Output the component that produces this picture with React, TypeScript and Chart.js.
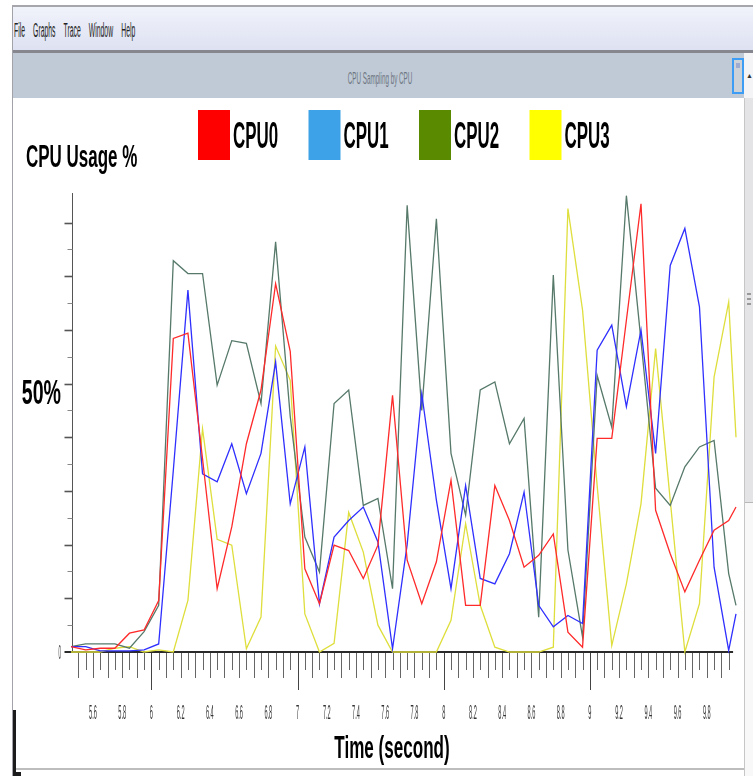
import React, { useEffect, useRef } from "react";
import { Chart, registerables } from "chart.js";

Chart.register(...registerables);

// ---------- data ----------
const times = [
  5.45, 5.55, 5.65, 5.75, 5.85, 5.95, 6.05, 6.15, 6.25, 6.35, 6.45, 6.55,
  6.65, 6.75, 6.85, 6.95, 7.05, 7.15, 7.25, 7.35, 7.45, 7.55, 7.65, 7.75,
  7.85, 7.95, 8.05, 8.15, 8.25, 8.35, 8.45, 8.55, 8.65, 8.75, 8.85, 8.95,
  9.05, 9.15, 9.25, 9.35, 9.45, 9.55, 9.65, 9.75, 9.85, 9.95, 10.0,
];

const cpu0 = [
  1.0, 0.4, 0.7, 0.7, 3.5, 4.1, 9.6, 58.4, 59.4, 36, 11.8, 23.3,
  38.8, 48.8, 68.6, 56, 15.5, 9, 19.9, 18.9, 13.7, 19.9, 47.8, 17.1,
  9, 16.8, 32, 8.7, 8.7, 31, 24.5, 15.8, 18, 22, 3.7, 0.9,
  39.8, 39.8, 61.8, 83.5, 26.4, 18.3, 11.2, 17.1, 22.7, 24.5, 27,
];

const cpu1 = [
  1.0, 1.0, 0.2, 0.2, 0.2, 0.4, 1.5, 33.8, 67.4, 33.2, 31.7, 38.8,
  29.5, 37, 54, 27.6, 38.2, 9, 21.4, 24.5, 27, 20.5, 0.6, 20,
  48.1, 28.3, 11.8, 31, 13.7, 12.7, 18.3, 29.8, 8.7, 4.7, 6.8, 5.3,
  56.2, 60.9, 45.7, 60, 37, 72, 78.9, 64.3, 15.8, 0.3, 7.1,
];

const cpu2 = [
  1.0, 1.5, 1.5, 1.5, 0.7, 3.8, 8.7, 72.9, 70.5, 70.5, 49.7, 58,
  57.5, 46.3, 76.4, 43.9, 21.4, 14.9, 46.3, 48.8, 27.3, 28.6, 11.8, 83.2,
  45, 80.7, 37, 25.5, 48.8, 50.3, 38.8, 43.5, 6.5, 70.2, 19, 2.8,
  51.5, 41.9, 85, 58, 30.5, 27.3, 34.5, 38.2, 39.4, 14.6, 8.7,
];

const cpu3 = [
  0, 0, 0, 0.7, 1.0, 0, 0.4, 0, 9.6, 41.6, 21, 19.9,
  0.6, 6.5, 57, 50.6, 7.1, 0, 1.6, 26, 18.6, 5, 0, 0,
  0, 0, 5.9, 23.9, 8.7, 0.9, 0, 0, 0, 0.9, 82.6, 63.7,
  31, 1.2, 12.7, 27.6, 56.5, 28.3, 0, 9, 51.2, 65.2, 40,
];

const seriesNames = ["CPU0", "CPU1", "CPU2", "CPU3"];
const lineColors = ["#ff2a2a", "#2f2fff", "#56796a", "#dede3c"];
const legendColors = ["#ff0000", "#3ea2e8", "#5a8a00", "#ffff00"];

const xTickValues = [
  5.6, 5.8, 6, 6.2, 6.4, 6.6, 6.8, 7, 7.2, 7.4, 7.6, 7.8, 8, 8.2, 8.4, 8.6,
  8.8, 9, 9.2, 9.4, 9.6, 9.8,
];
const xTickLabels = [
  "5.6", "5.8", "6", "6.2", "6.4", "6.6", "6.8", "7", "7.2", "7.4", "7.6",
  "7.8", "8", "8.2", "8.4", "8.6", "8.8", "9", "9.2", "9.4", "9.6", "9.8",
];
const yTickValues = [0, 5, 10, 15, 20, 25, 30, 35, 40, 45, 50, 55, 60, 65, 70, 75, 80];
const yLabelValue = 50;
const yLabelText = "50%";
const yZeroText = "0";
const yAxisTitle = "CPU Usage %";
const xAxisTitle = "Time (second)";
const windowTitle = "CPU Sampling by CPU";
const menuItems = ["File", "Graphs", "Trace", "Window", "Help"];

// ---------- helpers ----------
function sqText(
  ctx: CanvasRenderingContext2D,
  text: string,
  x: number,
  y: number,
  font: string,
  sx: number,
  color: string,
  align: CanvasTextAlign = "left"
) {
  ctx.save();
  ctx.font = font;
  ctx.fillStyle = color;
  ctx.textAlign = align;
  ctx.textBaseline = "alphabetic";
  ctx.translate(x, y);
  ctx.scale(sx, 1);
  ctx.fillText(text, 0, 0);
  ctx.restore();
}

const decorPlugin = {
  id: "decor",
  beforeDatasetsDraw(chart: any) {
    const ctx: CanvasRenderingContext2D = chart.ctx;
    const xs = chart.scales.x;
    const ys = chart.scales.y;
    const y0 = ys.getPixelForValue(0);
    const axisX = chart.chartArea.left + 1.5;
    ctx.save();
    // y axis line
    ctx.strokeStyle = "#555";
    ctx.lineWidth = 1;
    ctx.beginPath();
    ctx.moveTo(axisX, ys.getPixelForValue(ys.max));
    ctx.lineTo(axisX, y0);
    ctx.stroke();
    // y ticks
    yTickValues.forEach((v) => {
      if (v === 0) return;
      const py = Math.round(ys.getPixelForValue(v)) + 0.5;
      const major = v % 10 === 0;
      ctx.strokeStyle = major ? "#555" : "#888";
      ctx.lineWidth = major ? 1.6 : 1;
      ctx.beginPath();
      ctx.moveTo(axisX - (major ? 8 : 5), py);
      ctx.lineTo(axisX, py);
      ctx.stroke();
    });
    // x ticks
    for (let k = 0; k <= 89; k++) {
      const t = Math.round((5.5 + k * 0.05) * 100) / 100;
      const px = Math.round(xs.getPixelForValue(t)) + 0.5;
      const isInt = Math.abs(t - Math.round(t)) < 1e-6;
      const len = isInt ? 38 : k % 2 === 0 ? 26 : 18;
      ctx.strokeStyle = isInt ? "#444" : "#666";
      ctx.lineWidth = 1;
      ctx.beginPath();
      ctx.moveTo(px, y0);
      ctx.lineTo(px, y0 + len);
      ctx.stroke();
    }
    // x axis line
    ctx.strokeStyle = "#2a2a2a";
    ctx.lineWidth = 2.2;
    ctx.beginPath();
    ctx.moveTo(axisX - 8, y0);
    ctx.lineTo(xs.getPixelForValue(9.98), y0);
    ctx.stroke();
    ctx.restore();
  },
  afterDraw(chart: any) {
    const ctx: CanvasRenderingContext2D = chart.ctx;
    const xs = chart.scales.x;
    const ys = chart.scales.y;
    const y0 = ys.getPixelForValue(0);
    const bold = (s: number) => `bold ${s}px "Liberation Sans", Arial, sans-serif`;
    const reg = (s: number) => `${s}px "Liberation Sans", Arial, sans-serif`;

    // legend
    seriesNames.forEach((name, i) => {
      const lx = 198 + i * 110.5;
      ctx.fillStyle = legendColors[i];
      ctx.fillRect(lx, 110, 32, 50);
      sqText(ctx, name, lx + 35, 148, bold(36), 0.47, "#000");
    });

    // axis titles
    sqText(ctx, yAxisTitle, 26, 167, bold(32), 0.53, "#000");
    sqText(ctx, xAxisTitle, 392, 758, bold(31), 0.55, "#000", "center");

    // y labels
    sqText(ctx, yLabelText, 61, ys.getPixelForValue(yLabelValue) + 20, bold(35), 0.56, "#000", "right");
    sqText(ctx, yZeroText, 61, y0 + 7, reg(20), 0.22, "#333", "right");

    // x tick labels
    xTickValues.forEach((v, i) => {
      sqText(ctx, xTickLabels[i], xs.getPixelForValue(v), 719, reg(20), 0.28, "#333", "center");
    });
  },
};

export default function App() {
  const canvasRef = useRef<HTMLCanvasElement | null>(null);

  useEffect(() => {
    const canvas = canvasRef.current;
    if (!canvas) return;
    const series = [cpu0, cpu1, cpu2, cpu3];
    const chart = new Chart(canvas, {
      type: "line",
      data: {
        datasets: series.map((vals, i) => ({
          label: seriesNames[i],
          data: times.map((t, j) => ({ x: t, y: vals[j] })),
          borderColor: lineColors[i],
          backgroundColor: lineColors[i],
          borderWidth: 1.3,
          pointRadius: 0,
          tension: 0,
          fill: false,
          clip: 6,
        })),
      },
      options: {
        responsive: false,
        animation: false,
        events: [],
        layout: { padding: { left: 71, right: 17, top: 193, bottom: 124 } },
        scales: {
          x: { type: "linear", min: 5.45, max: 10.0, display: false },
          y: { type: "linear", min: 0, max: 85.5, display: false },
        },
        plugins: {
          legend: { display: false },
          tooltip: { enabled: false },
          title: { display: false },
        },
      } as any,
      plugins: [decorPlugin],
    });
    return () => chart.destroy();
  }, []);

  const abs = (s: React.CSSProperties): React.CSSProperties => ({ position: "absolute", ...s });

  return (
    <div
      style={{
        position: "fixed",
        left: 0,
        top: 0,
        width: 753,
        height: 776,
        background: "#fff",
        overflow: "hidden",
        fontFamily: '"Liberation Sans", Arial, sans-serif',
      }}
    >
      {/* top border */}
      <div style={abs({ left: 12, right: 0, top: 5, height: 2, background: "#a6a6ac" })} />
      {/* menu bar */}
      <div
        style={abs({
          left: 13,
          right: 0,
          top: 7,
          height: 43,
          background: "linear-gradient(#f1f3fb, #dde1f1)",
        })}
      />
      <div
        style={abs({
          left: 14,
          top: 20,
          display: "flex",
          gap: 24,
          fontSize: 20,
          lineHeight: "20px",
          color: "#222",
          transform: "scaleX(0.34)",
          transformOrigin: "left top",
          whiteSpace: "nowrap",
        })}
      >
        {menuItems.map((m) => (
          <span key={m}>{m}</span>
        ))}
      </div>
      {/* separator */}
      <div style={abs({ left: 13, right: 0, top: 50, height: 3, background: "#86868e" })} />
      {/* title bar */}
      <div style={abs({ left: 13, width: 731, top: 53, height: 45, background: "#bfcad6" })} />
      <div
        style={abs({
          left: 380,
          top: 70,
          fontSize: 17,
          lineHeight: "17px",
          color: "#6e7682",
          transform: "translateX(-50%) scaleX(0.37)",
          transformOrigin: "center top",
          whiteSpace: "nowrap",
        })}
      >
        {windowTitle}
      </div>
      {/* title-bar button */}
      <div
        style={abs({
          left: 732,
          top: 58,
          width: 8,
          height: 32,
          border: "2px solid #3d9df5",
          background: "#cdd1d8",
        })}
      >
        <div style={abs({ left: 2, top: 3, width: 4, height: 5, background: "#9eaad0" })} />
      </div>
      {/* right edge / scrollbar */}
      <div style={abs({ left: 744, top: 53, width: 9, height: 45, background: "#f4f4f6" })} />
      <div
        style={abs({
          left: 746,
          top: 72,
          fontSize: 7,
          lineHeight: "7px",
          color: "#333",
        })}
      >
        ▲
      </div>
      <div
        style={abs({
          left: 744,
          top: 98,
          width: 9,
          height: 678,
          background: "#f8f8f8",
          borderLeft: "1px solid #c6c6c6",
          boxSizing: "border-box",
        })}
      />
      <div
        style={abs({
          left: 745,
          top: 98,
          width: 8,
          height: 405,
          background: "#e4e4e6",
          borderBottom: "1px solid #b8b8b8",
          boxSizing: "border-box",
        })}
      />
      <div style={abs({ left: 747, top: 293, width: 4, height: 2, background: "#999" })} />
      <div style={abs({ left: 747, top: 298, width: 4, height: 2, background: "#999" })} />
      <div style={abs({ left: 747, top: 303, width: 4, height: 2, background: "#999" })} />
      {/* left border */}
      <div style={abs({ left: 12, top: 7, width: 1, height: 769, background: "#a2a2aa" })} />
      {/* bottom border */}
      <div style={abs({ left: 13, top: 768, width: 731, height: 2, background: "#bdbdbd" })} />
      <div style={abs({ left: 13, top: 710, width: 3, height: 66, background: "#1c1c1c" })} />
      <div style={abs({ left: 13, top: 772, width: 8, height: 4, background: "#1c1c1c" })} />

      <canvas
        ref={canvasRef}
        width={753}
        height={776}
        style={abs({ left: 0, top: 0, width: 753, height: 776, pointerEvents: "none" })}
      />
    </div>
  );
}
